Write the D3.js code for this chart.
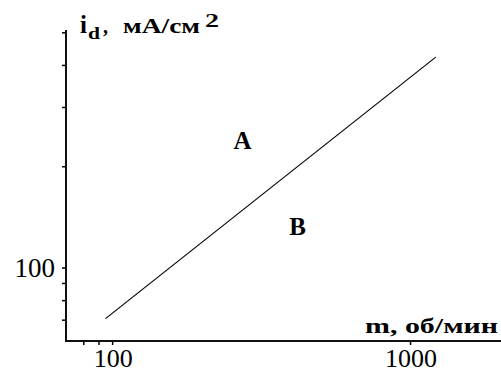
<!DOCTYPE html>
<html>
<head>
<meta charset="utf-8">
<script src="https://cdn.jsdelivr.net/npm/d3@7"></script>
<style>
  html, body { margin: 0; padding: 0; background: #fff; }
  svg { display: block; }
  text { font-family: "Liberation Serif", "Times New Roman", serif; fill: #000; }
</style>
</head>
<body>
<svg id="chart" width="501" height="373"></svg>
<script>
// Rotation speed (rpm) and limiting current density (mA/cm^2), log-log
const speedDomain = [70, 2020];
const currentDomain = [60.5, 508];

// Boundary line between regions A and B
const boundarySpeed = [95, 1220];
const boundaryCurrent = [70.5, 422];

// Ticks
const xTicks = [80, 90, 100, 1000];
const xTickLabels = [100, 1000];
const yTicks = [70, 80, 90, 100, 200, 300, 400, 500];
const yTickLabels = [100];

// Region labels
const regionNames = ["A", "B"];
const regionSpeed = [274, 419];
const regionCurrent = [225, 125];

const svg = d3.select("#chart");
const plot = { left: 66, right: 501, top: 30, bottom: 341 };

const x = d3.scaleLog().domain(speedDomain).range([plot.left, plot.right]);
const y = d3.scaleLog().domain(currentDomain).range([plot.bottom, plot.top]);

// Axes
const xAxis = d3.axisBottom(x).tickValues(xTicks).tickSize(4).tickFormat("");
const yAxis = d3.axisLeft(y).tickValues(yTicks).tickSize(4).tickFormat("");

const gx = svg.append("g").attr("transform", `translate(0,${plot.bottom})`).call(xAxis);
const gy = svg.append("g").attr("transform", `translate(${plot.left},0)`).call(yAxis);
[gx, gy].forEach(g => {
  g.select(".domain").remove();
  g.selectAll(".tick line").attr("stroke", "#000").attr("stroke-width", 1.5);
});

svg.append("line")
  .attr("x1", plot.left).attr("x2", plot.right).attr("y1", plot.bottom).attr("y2", plot.bottom)
  .attr("stroke", "#111").attr("stroke-width", 2);
svg.append("line")
  .attr("x1", plot.left).attr("x2", plot.left).attr("y1", plot.top).attr("y2", plot.bottom + 1)
  .attr("stroke", "#111").attr("stroke-width", 2);

// Tick labels
svg.selectAll(".xlab").data(xTickLabels).join("text")
  .attr("class", "xlab")
  .attr("x", d => x(d) + 1).attr("y", 367)
  .attr("text-anchor", "middle")
  .attr("font-size", 26)
  .text(d => d);

svg.selectAll(".ylab").data(yTickLabels).join("text")
  .attr("class", "ylab")
  .attr("x", plot.left - 11).attr("y", d => y(d) + 9)
  .attr("text-anchor", "end")
  .attr("font-size", 27)
  .text(d => d);

// Boundary line
const pts = boundarySpeed.map((s, i) => [x(s), y(boundaryCurrent[i])]);
svg.append("path")
  .attr("d", d3.line()(pts))
  .attr("fill", "none").attr("stroke", "#000").attr("stroke-width", 1.2);

// Region labels
svg.selectAll(".region").data(regionNames).join("text")
  .attr("class", "region")
  .attr("x", (d, i) => x(regionSpeed[i])).attr("y", (d, i) => y(regionCurrent[i]))
  .attr("text-anchor", "middle")
  .attr("font-size", 25).attr("font-weight", "bold")
  .text(d => d);

// Y-axis title: i_d, мА/см²  (wide bold face, set piece by piece)
const titleY = svg.append("g").attr("font-weight", "bold");
titleY.append("text").attr("x", 80).attr("y", 33).attr("font-size", 25).text("i");
titleY.append("text").attr("x", 88).attr("y", 39).attr("font-size", 16)
  .attr("textLength", 12).attr("lengthAdjust", "spacingAndGlyphs").text("d");
titleY.append("text").attr("x", 103).attr("y", 33).attr("font-size", 20).text(",");
titleY.append("text").attr("x", 123).attr("y", 33).attr("font-size", 20)
  .attr("textLength", 77).attr("lengthAdjust", "spacingAndGlyphs").text("мА/см");
titleY.append("text").attr("x", 205).attr("y", 27).attr("font-size", 18)
  .attr("textLength", 14).attr("lengthAdjust", "spacingAndGlyphs").text("2");

// X-axis title
svg.append("text")
  .attr("x", 365).attr("y", 333)
  .attr("font-size", 22).attr("font-weight", "bold")
  .attr("textLength", 133).attr("lengthAdjust", "spacingAndGlyphs")
  .text("m, об/мин");
</script>
</body>
</html>
